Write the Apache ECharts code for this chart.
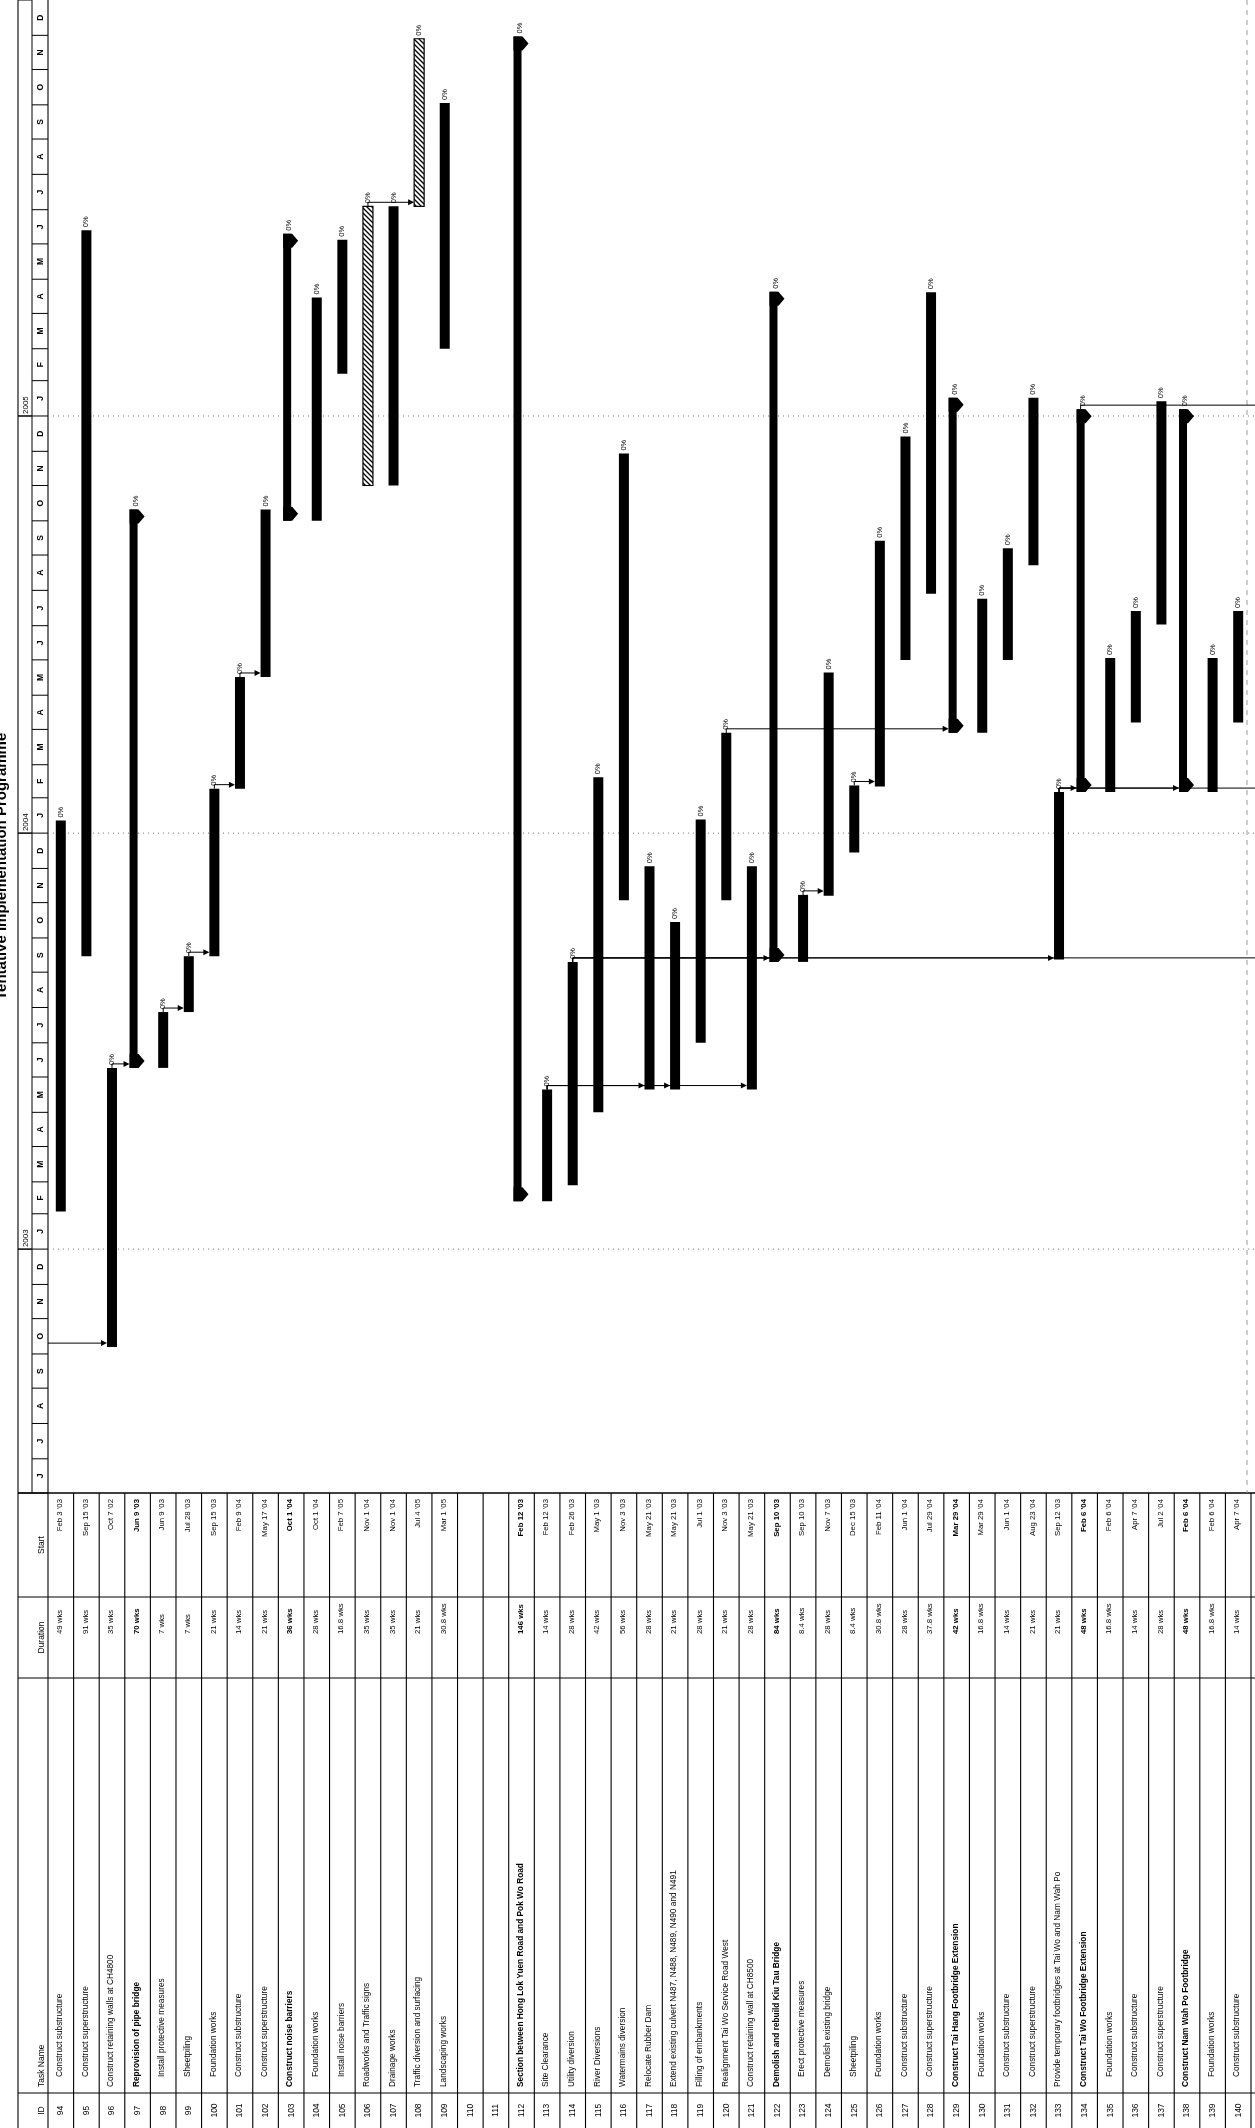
<!DOCTYPE html>
<html>
<head>
<meta charset="utf-8">
<title>Tentative Implementation Programme</title>
<style>
html, body { margin: 0; padding: 0; background: #fff; }
#chart { width: 1255px; height: 2128px; }
</style>
<script src="https://cdn.jsdelivr.net/npm/echarts@6.0.0/dist/echarts.min.js"></script>
</head>
<body>
<div id="chart"></div>
<script>
// ---------------- programme data ----------------
const taskIds = [94, 95, 96, 97, 98, 99, 100, 101, 102, 103, 104, 105, 106, 107, 108, 109, 110, 111,
  112, 113, 114, 115, 116, 117, 118, 119, 120, 121, 122, 123, 124, 125, 126, 127, 128, 129, 130,
  131, 132, 133, 134, 135, 136, 137, 138, 139, 140];

const taskNames = [
  'Construct substructure',
  'Construct superstructure',
  'Construct retaining walls at CH4800',
  'Reprovision of pipe bridge',
  'Install protective measures',
  'Sheetpiling',
  'Foundation works',
  'Construct substructure',
  'Construct superstructure',
  'Construct noise barriers',
  'Foundation works',
  'Install noise barriers',
  'Roadworks and Traffic signs',
  'Drainage works',
  'Traffic diversion and surfacing',
  'Landscaping works',
  '',
  '',
  'Section between Hong Lok Yuen Road and Pok Wo Road',
  'Site Clearance',
  'Utility diversion',
  'River Diversions',
  'Watermains diversion',
  'Relocate Rubber Dam',
  'Extend existing culvert N487, N488, N489, N490 and N491',
  'Filling of embankments',
  'Realignment Tai Wo Service Road West',
  'Construct retaining wall at CH8500',
  'Demolish and rebuild Kiu Tau Bridge',
  'Erect protective measures',
  'Demolish existing bridge',
  'Sheetpiling',
  'Foundation works',
  'Construct substructure',
  'Construct superstructure',
  'Construct Tai Hang Footbridge Extension',
  'Foundation works',
  'Construct substructure',
  'Construct superstructure',
  'Provide temporary footbridges at Tai Wo and Nam Wah Po',
  'Construct Tai Wo Footbridge Extension',
  'Foundation works',
  'Construct substructure',
  'Construct superstructure',
  'Construct Nam Wah Po Footbridge',
  'Foundation works',
  'Construct substructure'
];

// durations in weeks (null = blank row)
const durationWeeks = [49, 91, 35, 70, 7, 7, 21, 14, 21, 36, 28, 16.8, 35, 35, 21, 30.8, null, null,
  146, 14, 28, 42, 56, 28, 21, 28, 21, 28, 84, 8.4, 28, 8.4, 30.8, 28, 37.8, 42, 16.8,
  14, 21, 21, 48, 16.8, 14, 28, 48, 16.8, 14];

const startDates = ['2003-02-03', '2003-09-15', '2002-10-07', '2003-06-09', '2003-06-09', '2003-07-28',
  '2003-09-15', '2004-02-09', '2004-05-17', '2004-10-01', '2004-10-01', '2005-02-07', '2004-11-01',
  '2004-11-01', '2005-07-04', '2005-03-01', null, null,
  '2003-02-12', '2003-02-12', '2003-02-26', '2003-05-01', '2003-11-03', '2003-05-21', '2003-05-21',
  '2003-07-01', '2003-11-03', '2003-05-21', '2003-09-10', '2003-09-10', '2003-11-07', '2003-12-15',
  '2004-02-11', '2004-06-01', '2004-07-29', '2004-03-29', '2004-03-29', '2004-06-01', '2004-08-23',
  '2003-09-12', '2004-02-06', '2004-02-06', '2004-04-07', '2004-07-02', '2004-02-06', '2004-02-06',
  '2004-04-07'];

const summaryIds = [97, 103, 112, 122, 129, 134, 138];
const hatchedIds = [106, 108];
const indentedIds = [94, 95, 98, 99, 100, 101, 102, 104, 105, 123, 124, 125, 126, 127, 128,
  130, 131, 132, 135, 136, 137, 139, 140];

// finish-to-start links [predecessor, successor]
const links = [[96, 97], [98, 99], [99, 100], [100, 101], [101, 102], [106, 108],
  [113, 117], [113, 118], [113, 121], [114, 122], [114, 133], [120, 129],
  [123, 124], [125, 126], [133, 134], [133, 138]];
const linksFromAbove = [96];          // predecessor outside this sheet
const linksBeyond = [114, 133, 134];  // successors outside this sheet

const monthLetters = ['J', 'F', 'M', 'A', 'M', 'J', 'J', 'A', 'S', 'O', 'N', 'D'];
const monthShort = ['Jan', 'Feb', 'Mar', 'Apr', 'May', 'Jun', 'Jul', 'Aug', 'Sep', 'Oct', 'Nov', 'Dec'];
const yearLabels = ['2003', '2004', '2005'];
const percentLabel = '0%';
const titleText = 'Tentative Implementation Programme';

// ---------------- layout ----------------
const W = 1255, H = 2128;
const FONT = '"Liberation Sans", Arial, sans-serif';
const DAY = 86400000;
const axisStart = Date.UTC(2002, 5, 1);
const axisEnd = Date.UTC(2006, 0, 1);
const YEAR_X0 = 18, YEAR_X1 = 32, MONTH_X1 = 48;
const COL_START_END = 1597, COL_DUR_END = 1678, COL_NAME_END = 2093;

const startMs = startDates.map(s => (s ? Date.parse(s) : null));
const endMs = startMs.map((s, i) => (s == null ? null : s + durationWeeks[i] * 7 * DAY));
const rowOf = id => taskIds.indexOf(id);
const isSummary = i => summaryIds.includes(taskIds[i]);
const isHatched = i => hatchedIds.includes(taskIds[i]);

function fmtStart(ms) {
  const d = new Date(ms);
  return monthShort[d.getUTCMonth()] + ' ' + d.getUTCDate() + " '" + String(d.getUTCFullYear()).slice(2);
}

// hatch fill for the highlighted bars
const hatch = document.createElement('canvas');
hatch.width = 5; hatch.height = 5;
(function () {
  const c = hatch.getContext('2d');
  c.fillStyle = '#fff'; c.fillRect(0, 0, 5, 5);
  c.strokeStyle = '#000'; c.lineWidth = 1.3;
  c.beginPath();
  c.moveTo(0, 0); c.lineTo(5, 5);
  c.moveTo(-1, 4); c.lineTo(1, 6);
  c.moveTo(4, -1); c.lineTo(6, 1);
  c.stroke();
})();
const hatchPattern = { image: hatch, repeat: 'repeat' };

// vertical text reading bottom-to-top
function vText(x, y, text, size, align, weight, vAlign) {
  return {
    type: 'text', x: x, y: y, rotation: Math.PI / 2, silent: true,
    style: {
      text: text, fontSize: size, fontFamily: FONT, fontWeight: weight || 'normal',
      fill: '#000', align: align || 'left', verticalAlign: vAlign || 'middle'
    }
  };
}
function hLine(x1, x2, y, st) {
  return { type: 'line', silent: true, shape: { x1: x1, y1: y, x2: x2, y2: y },
    style: Object.assign({ stroke: '#000', lineWidth: 1 }, st || {}) };
}
function vLine(x, y1, y2, st) {
  return { type: 'line', silent: true, shape: { x1: x, y1: y1, x2: x, y2: y2 },
    style: Object.assign({ stroke: '#000', lineWidth: 1 }, st || {}) };
}
function barLeftOffset(i) { return isSummary(i) ? 8 : 5; }

// ---------------- series data ----------------
const barData = [];
startMs.forEach((s, i) => {
  if (s == null) return;
  barData.push([i, s, endMs[i], isSummary(i) ? 1 : (isHatched(i) ? 2 : 0)]);
});

const linkData = [];
links.forEach(([a, b]) => linkData.push([rowOf(a), rowOf(b), endMs[rowOf(a)]]));
linksFromAbove.forEach(id => linkData.push([-1, rowOf(id), startMs[rowOf(id)]]));
linksBeyond.forEach(id => linkData.push([rowOf(id), -1, endMs[rowOf(id)]]));

const monthData = [];
for (let t = 0; ; t++) {
  const m0 = Date.UTC(2002, 5 + t, 1);
  if (m0 >= axisEnd) break;
  monthData.push([0, m0, Date.UTC(2002, 6 + t, 1), (5 + t) % 12]);
}
const yearData = [[0, axisStart, Date.UTC(2003, 0, 1), -1]];
yearLabels.forEach((y, k) => yearData.push([0, Date.UTC(+y, 0, 1), Date.UTC(+y + 1, 0, 1), k]));

const rowData = taskIds.map((id, i) => [i, axisStart]);

// ---------------- renderers ----------------
function renderBar(params, api) {
  const row = api.value(0), s = api.value(1), e = api.value(2), kind = api.value(3);
  const pS = api.coord([row + 0.5, s]), pE = api.coord([row + 0.5, e]);
  const xc = pS[0], yb = pS[1], yt = pE[1];
  const kids = [];
  if (kind === 1) {
    const xl = xc - 8, xr = xc;
    kids.push({ type: 'rect', shape: { x: xl, y: yt, width: xr - xl, height: yb - yt }, style: { fill: '#000' } });
    kids.push({ type: 'polygon', shape: { points: [[xl, yt], [xr + 1, yt], [xr + 7, yt + 7], [xr + 1, yt + 14], [xl, yt + 14]] }, style: { fill: '#000' } });
    kids.push({ type: 'polygon', shape: { points: [[xl, yb], [xr + 1, yb], [xr + 7, yb - 7], [xr + 1, yb - 14], [xl, yb - 14]] }, style: { fill: '#000' } });
    kids.push(vText(xc - 2, yt - 3, percentLabel, 7.5, 'left'));
  } else if (kind === 2) {
    kids.push({ type: 'rect', shape: { x: xc - 5, y: yt, width: 10, height: yb - yt }, style: { fill: hatchPattern, stroke: '#000', lineWidth: 1.2 } });
    kids.push(vText(xc, yt - 3, percentLabel, 7.5, 'left'));
  } else {
    kids.push({ type: 'rect', shape: { x: xc - 5, y: yt, width: 10, height: yb - yt }, style: { fill: '#000' } });
    kids.push(vText(xc, yt - 3, percentLabel, 7.5, 'left'));
  }
  return { type: 'group', children: kids };
}

function renderLink(params, api) {
  const from = api.value(0), to = api.value(1), t = api.value(2);
  const kids = [];
  const yDate = api.coord([0, t])[1];
  const y = yDate - 4;
  let xf, xt;
  if (from < 0) {
    xf = api.coord([0, t])[0];
  } else {
    xf = api.coord([from + 0.5, t])[0] - (isSummary(from) ? 4 : 0);
  }
  if (to < 0) {
    xt = W;
    kids.push({ type: 'polyline', silent: true, shape: { points: [[xf, yDate], [xf, y], [xt, y]] }, style: { stroke: '#000', lineWidth: 1, fill: null } });
  } else {
    xt = api.coord([to + 0.5, t])[0] - barLeftOffset(to);
    const pts = from < 0 ? [[xf, y], [xt - 5, y]] : [[xf, yDate], [xf, y], [xt - 5, y]];
    kids.push({ type: 'polyline', silent: true, shape: { points: pts }, style: { stroke: '#000', lineWidth: 1, fill: null } });
    kids.push({ type: 'polygon', silent: true, shape: { points: [[xt, y], [xt - 6, y - 3], [xt - 6, y + 3]] }, style: { fill: '#000' } });
  }
  return { type: 'group', children: kids };
}

function renderMonth(params, api) {
  const y0 = api.coord([0, api.value(1)])[1], y1 = api.coord([0, api.value(2)])[1];
  const m = api.value(3);
  return { type: 'group', children: [
    hLine(YEAR_X1, MONTH_X1, y0),
    vText((YEAR_X1 + MONTH_X1) / 2 + 1, (y0 + y1) / 2, monthLetters[m], 8.5, 'center', 'bold')
  ] };
}

function renderYear(params, api) {
  const y0 = api.coord([0, api.value(1)])[1], y1 = api.coord([0, api.value(2)])[1];
  const k = api.value(3);
  const kids = [hLine(YEAR_X0, YEAR_X1, y0), hLine(YEAR_X0, YEAR_X1, y1)];
  if (k >= 0) {
    kids.push(vText((YEAR_X0 + YEAR_X1) / 2 + 1, y0 - 2, yearLabels[k], 8, 'left'));
    // faint dotted line across the bar area at the start of each year
    kids.push(hLine(MONTH_X1, W, y0, { stroke: '#777', lineWidth: 1, lineDash: [1, 4] }));
  }
  return { type: 'group', children: kids };
}

function renderRow(params, api) {
  const i = api.value(0);
  const top = api.coord([0, axisStart])[1];
  const xl = api.coord([i, axisStart])[0], xr = api.coord([i + 1, axisStart])[0];
  const xc = (xl + xr) / 2 - 1;
  const bold = isSummary(i) ? 'bold' : 'normal';
  const kids = [vLine(xr, top, H, { lineWidth: 1.1 })];
  kids.push(vText(xc + 1, (COL_NAME_END + H) / 2, String(taskIds[i]), 8.5, 'center'));
  if (taskNames[i]) {
    const indent = indentedIds.includes(taskIds[i]) ? 10 : 0;
    kids.push(vText(xc, COL_NAME_END - 6 - indent, taskNames[i], 8.3, 'left', bold));
  }
  if (durationWeeks[i] != null) {
    kids.push(vText(xc, COL_START_END + 37, durationWeeks[i] + ' wks', 7.8, 'left', bold));
  }
  if (startMs[i] != null) {
    kids.push(vText(xc, top + 6, fmtStart(startMs[i]), 7.8, 'right', bold));
  }
  return { type: 'group', children: kids };
}

function renderFrame(params, api) {
  const top = api.coord([0, axisStart])[1];
  const gl = api.coord([0, axisStart])[0];
  const hx = 42;
  const kids = [
    // timeline header
    vLine(YEAR_X0, 0, top, { lineWidth: 1.1 }),
    vLine(YEAR_X1, 0, top, { lineWidth: 1 }),
    vLine(MONTH_X1, 0, top, { lineWidth: 1.1 }),
    // table frame
    hLine(YEAR_X0, W, top, { lineWidth: 1.3 }),
    hLine(YEAR_X0, W, COL_START_END, { lineWidth: 1.1 }),
    hLine(YEAR_X0, W, COL_DUR_END, { lineWidth: 1.1 }),
    hLine(YEAR_X0, W, COL_NAME_END, { lineWidth: 1.1 }),
    vLine(YEAR_X0, top, H, { lineWidth: 1.1 }),
    vLine(gl, top, H, { lineWidth: 1.1 }),
    // column headings
    vText(hx, (top + COL_START_END) / 2, 'Start', 8.5, 'center'),
    vText(hx, (COL_START_END + COL_DUR_END) / 2, 'Duration', 8.5, 'center'),
    vText(hx, COL_NAME_END - 6, 'Task Name', 8.5, 'left'),
    vText(hx, (COL_NAME_END + H) / 2, 'ID', 8.5, 'center'),
    // sheet edge
    vLine(W - 8, 0, top, { stroke: '#999', lineWidth: 1, lineDash: [5, 5] }),
    // title, running off the left edge of the sheet
    vText(9, 1000, titleText, 15, 'left', 'bold', 'bottom')
  ];
  return { type: 'group', children: kids };
}

// ---------------- chart ----------------
const chart = echarts.init(document.getElementById('chart'), null, { renderer: 'canvas' });
chart.setOption({
  animation: false,
  backgroundColor: '#fff',
  grid: { left: 48, right: 4, top: 0, bottom: 635 },
  xAxis: { type: 'value', min: 0, max: taskIds.length, show: false },
  yAxis: { type: 'time', min: axisStart, max: axisEnd, show: false },
  series: [
    { type: 'custom', name: 'frame', clip: false, silent: true, renderItem: renderFrame, data: [[0, axisStart]] },
    { type: 'custom', name: 'years', clip: false, silent: true, renderItem: renderYear, data: yearData },
    { type: 'custom', name: 'months', clip: false, silent: true, renderItem: renderMonth, data: monthData },
    { type: 'custom', name: 'table', clip: false, silent: true, renderItem: renderRow, data: rowData },
    { type: 'custom', name: 'links', clip: false, silent: true, renderItem: renderLink, data: linkData },
    { type: 'custom', name: 'tasks', clip: false, silent: true, renderItem: renderBar, data: barData }
  ]
});
</script>
</body>
</html>
